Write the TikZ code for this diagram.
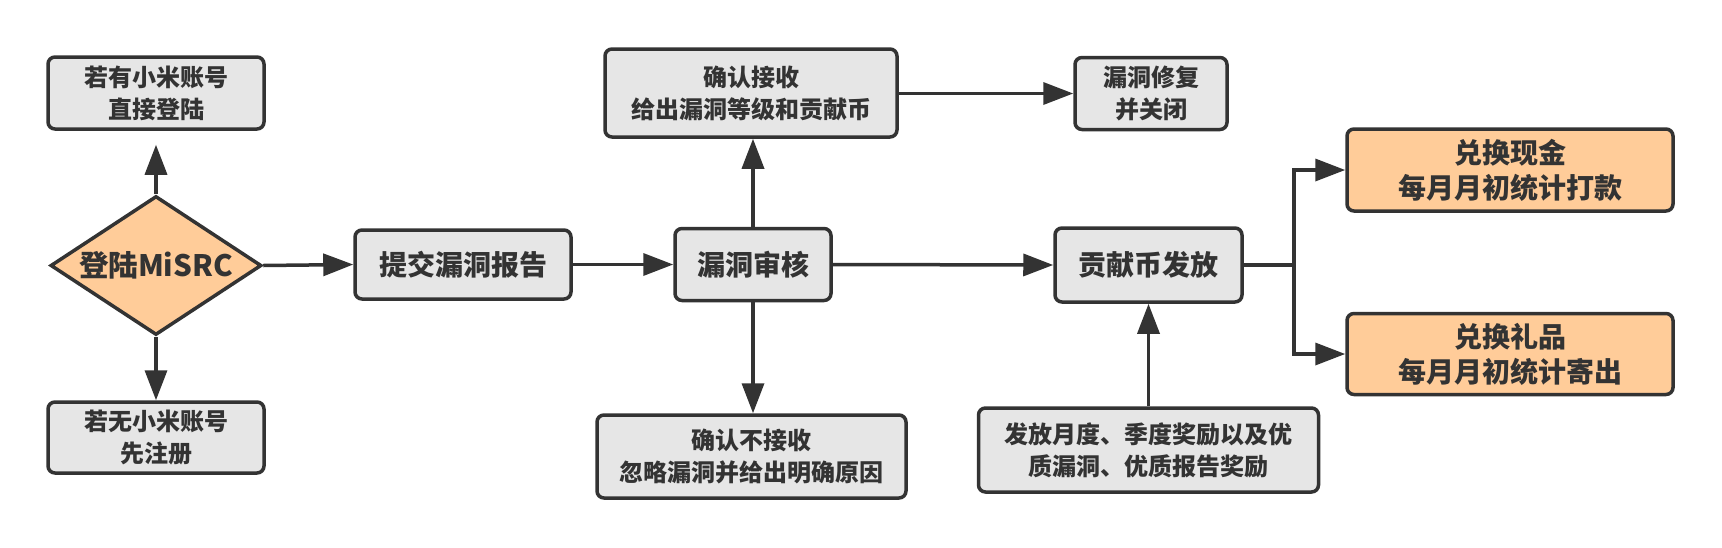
\documentclass[tikz,border=0pt]{standalone}
\usepackage{fontspec}
\setmainfont{Noto Sans CJK SC}
\usetikzlibrary{arrows.meta,shapes.geometric}
\definecolor{ln}{HTML}{333333}
\definecolor{gfill}{HTML}{E6E6E6}
\definecolor{ofill}{HTML}{FFCC99}
\tikzset{
  box/.style={draw=ln, line width=3.5pt, fill=gfill, rounded corners=7pt, inner sep=0pt, align=center, text=ln},
  obox/.style={box, fill=ofill},
  two/.style={font=\bfseries\fontsize{24}{32}\selectfont},
  one/.style={font=\bfseries\fontsize{28}{34}\selectfont},
  otwo/.style={font=\bfseries\fontsize{28}{35}\selectfont},
  dtext/.style={font=\bfseries\fontsize{29.5}{34}\selectfont},
  diam/.style={draw=ln, line width=3.5pt, fill=ofill, shape=diamond, inner sep=0pt},
  conn/.style={draw=ln, line width=3.5pt, -{Triangle[length=30pt,width=22pt]}},
  plain/.style={draw=ln, line width=3.5pt},
}
\begin{document}
\begin{tikzpicture}[x=1pt,y=-1pt]
\fill[white] (0,0) rectangle (1722,547);
\useasboundingbox (0,0) rectangle (1722,547);
% nodes
\node[box,two,minimum width=216pt,minimum height=72pt] (A) at (156,93) {若有小米账号\\直接登陆};
\node[diam,minimum width=211pt,minimum height=139pt] (d) at (156,265.5) {};
\node[dtext,text=ln] (dt) at (d.center) {登陆MiSRC};
\node[box,two,minimum width=216pt,minimum height=71pt] (B) at (156,437.5) {若无小米账号\\先注册};
\node[box,one,minimum width=216pt,minimum height=69pt] (C) at (463,264.5) {提交漏洞报告};
\node[box,one,minimum width=156pt,minimum height=72pt] (D) at (753,264.5) {漏洞审核};
\node[box,two,minimum width=292pt,minimum height=88pt] (E) at (751,93) {确认接收\\给出漏洞等级和贡献币};
\node[box,two,minimum width=152pt,minimum height=72pt] (F) at (1151,93.5) {漏洞修复\\并关闭};
\node[box,two,minimum width=309pt,minimum height=83pt] (G) at (751.5,456.5) {确认不接收\\忽略漏洞并给出明确原因};
\node[box,one,minimum width=187pt,minimum height=74pt] (H) at (1148.5,265) {贡献币发放};
\node[box,two,minimum width=340pt,minimum height=84pt] (I) at (1148.5,450) {发放月度、季度奖励以及优\\质漏洞、优质报告奖励};
\node[obox,otwo,minimum width=326pt,minimum height=82pt] (J) at (1510,170) {兑换现金\\每月月初统计打款};
\node[obox,otwo,minimum width=326pt,minimum height=81pt] (K) at (1510,354) {兑换礼品\\每月月初统计寄出};
\coordinate (br) at (1294,265);
% connectors
\draw[conn,shorten >=14pt] (d.north) -- (A.south);
\draw[conn] (d.south) -- (B.north);
\draw[conn] (d.east) -- (C.west);
\draw[conn] (C.east) -- (D.west);
\draw[conn] (D.east) -- (H.west);
\draw[conn] (D.north) -- (D.north |- E.south);
\draw[conn] (D.south) -- (D.south |- G.north);
\draw[conn] (E.east |- F.west) -- (F.west);
\draw[conn] (I.north) -- (H.south);
\draw[plain] (H.east) -- (br);
\draw[conn] (br) |- (J.west);
\draw[conn] (br) |- (K.west);
\end{tikzpicture}
\end{document}
